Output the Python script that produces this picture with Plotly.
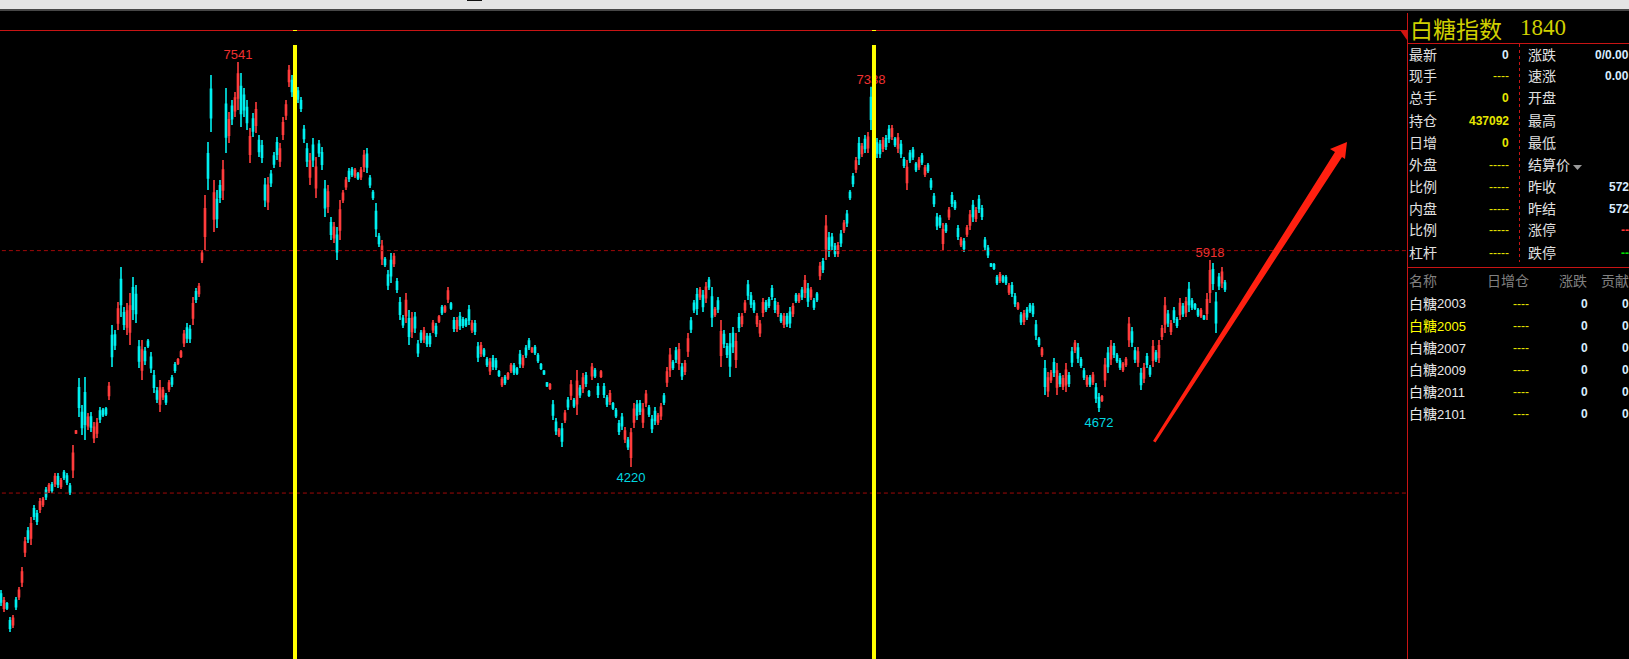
import plotly.graph_objects as go

# ---------- data: sugar index candles ----------
highs = [
3212,3155,3114,2991,3007,3155,3237,3401,3647,3729,
3811,3909,3868,3966,3975,4057,4090,4098,4171,4171,
4130,4196,4171,4090,4401,4524,4950,4729,4959,4663,
4672,4590,4622,4713,4704,4713,4918,5385,5344,5574,
5861,5533,5565,5647,5779,5713,5262,5262,5205,5270,
5164,5016,4877,4934,4877,4827,4934,4975,5082,5114,
5180,5344,5401,5385,5615,5688,5729,6000,6451,6886,
7435,6574,6492,6574,6738,7328,7132,7230,7296,7541,
7451,7328,7230,7000,7123,7214,6943,6902,6590,6599,
6656,6804,6927,6877,7091,7230,7517,7435,7476,7337,
7255,7025,6877,6795,6918,6763,6902,6845,6574,6533,
6271,6230,6189,6410,6492,6599,6672,6681,6672,6640,
6681,6820,6836,6615,6492,6385,6139,6082,5943,5836,
5975,5975,5770,5615,5467,5647,5508,5492,5492,5262,
5344,5369,5319,5319,5426,5401,5467,5549,5549,5697,
5574,5451,5451,5492,5451,5442,5549,5426,5426,5246,
5246,5196,5123,5114,5139,5114,5016,4959,4975,5000,
5073,5073,5041,5180,5139,5221,5278,5205,5221,5155,
5073,5016,4918,4909,4770,4622,4540,4581,4688,4795,
4934,4786,5016,4893,4991,5000,4852,5073,5032,4909,
5016,4909,4811,4852,4754,4704,4606,4663,4549,4467,
4540,4745,4770,4770,4745,4852,4729,4647,4713,4663,
4745,4827,5041,5196,5098,5205,5237,5073,5098,5319,
5451,5590,5688,5697,5672,5738,5779,5697,5533,5615,
5426,5344,5237,5319,5369,5319,5483,5483,5590,5754,
5656,5590,5483,5426,5606,5590,5615,5713,5606,5574,
5483,5483,5483,5533,5565,5647,5647,5697,5795,5729,
5697,5606,5656,5902,5934,6287,6148,6139,6057,6066,
6164,6246,6328,6492,6631,6763,6927,6877,6943,6968,
7338,7230,6918,6902,6927,6943,7025,7025,6927,6959,
6902,6763,6738,6820,6845,6722,6763,6795,6697,6713,
6590,6467,6303,6287,6221,6221,6353,6476,6410,6205,
6107,6098,6205,6328,6410,6353,6451,6369,6107,6041,
5893,5893,5795,5820,5795,5795,5729,5738,5647,5574,
5492,5508,5533,5565,5565,5426,5287,5205,5098,5000,
5016,5114,5073,4991,4975,5073,5000,5205,5262,5237,
5123,5032,4975,4975,5000,4909,4827,4811,5114,5205,
5262,5237,5155,5114,5082,5123,5451,5369,5205,5205,
5032,5073,5155,5057,5262,5180,5262,5385,5615,5508,
5426,5533,5451,5606,5565,5615,5738,5606,5565,5524,
5524,5467,5647,5918,5893,5656,5811,5861,5754]

lows = [
3081,3032,3048,2868,2900,3048,3130,3237,3483,3597,
3581,3786,3745,3843,3893,3950,4007,4007,4057,4048,
4040,4114,4073,3991,4130,4491,4631,4483,4442,4524,
4508,4417,4458,4581,4631,4639,4770,5041,5180,5344,
5451,5344,5303,5221,5426,5401,5032,4934,5057,5196,
4991,4827,4745,4672,4770,4729,4836,4877,4991,5057,
5114,5205,5237,5237,5385,5565,5615,5893,6000,6492,
6968,6148,6180,6385,6410,6795,6877,7025,7091,7148,
7009,7091,6984,6713,6927,6959,6763,6713,6353,6328,
6517,6672,6738,6681,6902,7066,7337,7255,7230,7205,
7132,6877,6681,6533,6681,6426,6763,6656,6271,6303,
6082,6057,5918,6082,6385,6492,6558,6599,6590,6574,
6574,6640,6631,6508,6410,6107,6025,5877,5861,5672,
5729,5861,5647,5426,5360,5401,5221,5278,5319,5123,
5237,5237,5205,5205,5319,5287,5401,5467,5483,5565,
5508,5328,5328,5344,5360,5369,5385,5319,5303,5082,
5123,5123,5041,4975,5016,5016,4959,4877,4893,4934,
4991,4975,4975,5032,5032,5114,5180,5155,5139,5073,
5016,4975,4877,4852,4606,4483,4467,4385,4581,4688,
4770,4704,4647,4786,4827,4877,4795,4934,4950,4786,
4950,4786,4713,4729,4688,4622,4483,4524,4417,4360,
4220,4540,4606,4647,4540,4713,4631,4499,4565,4565,
4606,4729,4877,4959,5016,5073,5016,4934,4975,5123,
5319,5483,5467,5590,5492,5565,5672,5369,5451,5483,
5041,5196,5114,4959,5155,5032,5328,5369,5483,5590,
5524,5483,5369,5287,5451,5492,5524,5590,5483,5451,
5401,5360,5369,5360,5451,5565,5565,5590,5606,5533,
5590,5508,5574,5754,5811,5918,5943,6000,5943,5943,
6025,6139,6189,6410,6517,6631,6697,6763,6795,6795,
6984,6861,6754,6754,6804,6820,6877,6902,6845,6795,
6754,6672,6492,6713,6738,6640,6656,6697,6599,6631,
6492,6353,6164,6180,6000,6139,6246,6353,6328,6082,
6025,5984,6107,6164,6230,6230,6303,6246,6000,5934,
5861,5836,5713,5729,5729,5713,5631,5615,5533,5508,
5385,5385,5426,5483,5451,5262,5205,5123,4811,4795,
4909,4959,4811,4877,4852,4836,4877,5041,5155,5073,
5032,4934,4877,4877,4893,4745,4672,4754,4877,4991,
5057,5114,5073,5016,5000,5041,5205,5205,5073,5041,
4852,4909,5032,4959,5041,5082,5073,5262,5319,5369,
5303,5401,5360,5426,5451,5451,5492,5508,5508,5451,
5442,5426,5426,5565,5672,5319,5672,5688,5656]

opens = [
3179,3063,3098,2960,2927,3128,3157,3278,3524,3696,
3638,3878,3837,3874,3914,4030,4028,4075,4086,4140,
4062,4175,4146,4065,4198,4499,4870,4667,4830,4559,
4631,4460,4499,4680,4686,4695,4807,5299,5303,5401,
5758,5486,5369,5328,5691,5635,5205,5016,5168,5252,
5121,4969,4844,4737,4797,4802,4860,4950,5059,5071,
5130,5240,5360,5348,5442,5657,5644,5920,6113,6788,
7318,6255,6414,6527,6492,7195,6941,7179,7142,7246,
7340,7269,7168,6785,7074,7023,6898,6855,6531,6396,
6621,6771,6880,6730,6949,7107,7382,7390,7414,7304,
7224,6988,6828,6598,6859,6510,6867,6798,6498,6360,
6224,6100,6121,6164,6412,6519,6644,6660,6610,6623,
6601,6685,6785,6588,6471,6315,6110,5928,5922,5795,
5913,5889,5739,5568,5440,5462,5436,5332,5449,5227,
5317,5270,5290,5290,5346,5372,5418,5528,5500,5598,
5557,5420,5359,5455,5428,5424,5508,5346,5395,5205,
5154,5178,5102,5010,5108,5090,5002,4898,4955,4950,
5012,5048,5024,5143,5059,5194,5254,5168,5200,5134,
5059,5006,4908,4866,4729,4587,4485,4532,4608,4768,
4811,4766,4739,4866,4868,4969,4838,4969,5012,4878,
4966,4878,4786,4760,4738,4684,4575,4628,4450,4440,
4300,4591,4729,4739,4591,4748,4704,4610,4676,4590,
4641,4802,4918,5018,5078,5172,5071,5038,5006,5172,
5418,5563,5633,5617,5627,5608,5752,5615,5471,5582,
5137,5307,5206,5229,5315,5104,5444,5398,5510,5713,
5623,5563,5398,5322,5490,5565,5592,5682,5575,5482,
5462,5391,5454,5490,5480,5626,5586,5670,5653,5680,
5617,5582,5636,5791,5903,6010,6097,6104,6029,5974,
6129,6166,6293,6472,6603,6664,6870,6792,6906,6838,
7250,7138,6877,6865,6835,6912,6988,6933,6907,6836,
6865,6740,6554,6793,6818,6702,6683,6770,6624,6692,
6565,6438,6268,6260,6055,6200,6273,6445,6390,6174,
6046,6070,6132,6205,6365,6261,6414,6338,6080,6014,
5885,5879,5775,5752,5778,5775,5656,5707,5619,5525,
5465,5416,5506,5545,5536,5385,5267,5144,5026,4846,
4936,5075,4877,4962,4883,4895,4969,5164,5182,5196,
5100,5008,4902,4950,4920,4868,4788,4768,4936,5152,
5108,5206,5134,5090,5020,5061,5267,5328,5172,5082,
4987,4950,5124,5032,5096,5155,5120,5293,5393,5473,
5334,5500,5428,5471,5536,5492,5676,5582,5551,5506,
5462,5457,5481,5653,5838,5572,5776,5731,5730]

closes = [
3114,3124,3064,2899,2980,3075,3210,3360,3606,3630,
3754,3817,3776,3935,3955,3977,4069,4030,4142,4079,
4108,4135,4098,4016,4333,4516,4711,4545,4571,4628,
4549,4547,4581,4614,4649,4657,4881,5127,5221,5516,
5554,5391,5500,5540,5514,5479,5090,5180,5094,5215,
5034,4874,4778,4868,4850,4754,4910,4902,5014,5100,
5164,5309,5278,5274,5558,5596,5700,5973,6338,6590,
7085,6468,6258,6432,6656,6928,7068,7076,7245,7443,
7120,7150,7046,6928,6976,7150,6808,6760,6412,6531,
6552,6705,6785,6828,7044,7189,7472,7300,7292,7238,
7163,6914,6730,6730,6740,6679,6798,6703,6347,6476,
6129,6187,5986,6328,6465,6572,6586,6620,6652,6590,
6654,6775,6682,6535,6431,6176,6054,6031,5882,5713,
5790,5947,5678,5473,5387,5586,5293,5438,5362,5158,
5264,5336,5234,5234,5399,5316,5450,5488,5532,5664,
5525,5359,5420,5381,5383,5387,5426,5399,5334,5123,
5215,5141,5062,5079,5047,5040,4973,4938,4913,4984,
5052,5000,4992,5069,5112,5141,5204,5192,5160,5094,
5030,4985,4887,4895,4647,4518,4522,4434,4661,4715,
4893,4724,4924,4813,4950,4908,4809,5038,4970,4817,
5000,4817,4738,4821,4704,4642,4514,4559,4516,4387,
4500,4694,4647,4678,4694,4817,4655,4536,4602,4638,
4710,4754,5000,5137,5036,5106,5182,4969,5067,5270,
5352,5510,5522,5670,5537,5695,5699,5451,5512,5516,
5330,5233,5145,5049,5209,5247,5367,5455,5563,5631,
5557,5510,5455,5391,5567,5516,5547,5621,5514,5543,
5422,5452,5398,5403,5537,5586,5626,5617,5748,5582,
5670,5533,5595,5865,5842,6195,5994,6035,5972,6035,
6060,6219,6224,6431,6546,6730,6755,6849,6832,6925,
7072,6953,6795,6791,6896,6851,6914,6994,6865,6918,
6791,6695,6676,6740,6765,6660,6736,6722,6672,6652,
6516,6382,6199,6207,6166,6160,6326,6384,6349,6113,
6086,6012,6180,6287,6275,6322,6340,6277,6027,5961,
5869,5850,5733,5797,5746,5733,5704,5646,5561,5557,
5412,5477,5453,5503,5480,5303,5225,5185,4883,4949,
4989,4998,5007,4906,4944,5014,4908,5082,5235,5114,
5055,4958,4950,4902,4973,4786,4711,4797,5055,5045,
5211,5145,5094,5040,5062,5102,5390,5246,5106,5164,
4897,5032,5063,4984,5207,5107,5215,5354,5541,5404,
5395,5434,5383,5561,5480,5574,5554,5532,5522,5469,
5503,5436,5592,5830,5727,5403,5707,5818,5680]

high_marks = [79, 290, 403]
high_marks_text = ["7541", "7338", "5918"]
low_marks = [210, 366]
low_label_levels = [4180, 4632]
low_marks_text = ["4220", "4672"]
ref_levels = [5995, 4007]
vline_bars = [98, 291]

title_name = "白糖指数"
title_code = "1840"
left_labels = ["最新","现手","总手","持仓","日增","外盘","比例","内盘","比例","杠杆"]
left_values = ["0","----","0","437092","0","-----","-----","-----","-----","-----"]
left_colors = ["#d8ecff","#e6e600","#e6e600","#e6e600","#e6e600","#e6e600","#e6e600","#e6e600","#e6e600","#e6e600"]
right_labels = ["涨跌","速涨","开盘","最高","最低","结算价","昨收","昨结","涨停","跌停"]
right_values = ["0/0.00","0.00","","","","","572","572","--","--"]
right_colors = ["#d8ecff","#d8ecff","#d8ecff","#d8ecff","#d8ecff","#d8ecff","#d8ecff","#d8ecff","#ff3232","#00e000"]
table_headers = ["名称","日增仓","涨跌","贡献"]
table_names = ["白糖","白糖","白糖","白糖","白糖","白糖"]
table_codes = ["2003","2005","2007","2009","2011","2101"]
table_dash = ["----"]*6
table_change = ["0"]*6
table_contrib = ["0"]*6

# ---------- layout helpers ----------
W, H = 1629, 659
PANEL = 1407
px = lambda x: x / W
py = lambda y: 1 - y / H
RED = "#c81414"
CUP, CDOWN = "#ff3c3c", "#00f0f0"

fig = go.Figure()
fig.add_trace(go.Candlestick(
    x=list(range(len(opens))), open=opens, high=highs, low=lows, close=closes,
    increasing=dict(line=dict(color=CUP, width=1.6), fillcolor=CUP),
    decreasing=dict(line=dict(color=CDOWN, width=1.6), fillcolor=CDOWN),
    whiskerwidth=0, hoverinfo="skip", showlegend=False))
fig.add_trace(go.Scatter(
    x=high_marks, y=[highs[i] for i in high_marks], mode="text", text=high_marks_text,
    textposition="top center", textfont=dict(family="Liberation Sans", size=13, color="#f03030"),
    hoverinfo="skip", showlegend=False, cliponaxis=False))
fig.add_trace(go.Scatter(
    x=low_marks, y=low_label_levels, mode="text", text=low_marks_text,
    textposition="bottom center", textfont=dict(family="Liberation Sans", size=13, color="#00d8e0"),
    hoverinfo="skip", showlegend=False, cliponaxis=False))

shapes = []
def pline(x0, y0, x1, y1, color=RED, width=1, dash=None):
    shapes.append(dict(type="line", xref="paper", yref="paper", x0=px(x0), y0=py(y0), x1=px(x1), y1=py(y1),
                       line=dict(color=color, width=width, dash=dash), layer="above"))
def prect(x0, y0, x1, y1, color):
    shapes.append(dict(type="rect", xref="paper", yref="paper", x0=px(x0), y0=py(y0), x1=px(x1), y1=py(y1),
                       fillcolor=color, line=dict(width=0), layer="above"))
def ppoly(points, color):
    d = "M " + " L ".join(f"{px(x):.5f},{py(y):.5f}" for x, y in points) + " Z"
    shapes.append(dict(type="path", xref="paper", yref="paper", path=d, fillcolor=color,
                       line=dict(width=0), layer="above"))

# window chrome
prect(0, 0, W, 9, "#e4e4e4")
prect(0, 9, W, 11, "#474747")
prect(467, 0, 482, 1, "#111111")
# chart frame and panels
pline(0, 30.5, PANEL, 30.5)
pline(PANEL + 0.5, 13, PANEL + 0.5, H, width=1)
pline(PANEL, 43.5, W, 43.5)
pline(PANEL, 267.5, W, 267.5)
pline(1519.5, 44, 1519.5, 262, dash="3px,3px")
ppoly([(1400, 30), (1407, 30), (1407, 40)], "#d01410")
ppoly([(1573, 165), (1582, 165), (1577.5, 170)], "#9a9a9a")
# reference levels in price units
for lv in ref_levels:
    shapes.append(dict(type="line", xref="x", yref="y", x0=0.3, x1=468.67, y0=lv, y1=lv,
                       line=dict(color="#a00808", width=1, dash="4px,3px"), layer="above"))
# yellow verticals
for b in vline_bars:
    shapes.append(dict(type="line", xref="x", yref="paper", x0=b, x1=b, y0=py(45), y1=0,
                       line=dict(color="#ffff00", width=4), layer="above"))
    shapes.append(dict(type="line", xref="x", yref="paper", x0=b, x1=b, y0=py(31), y1=py(30),
                       line=dict(color="#ffff00", width=4), layer="above"))
# hand-drawn arrow
ppoly([(1153, 441), (1335, 152), (1330, 149), (1347, 142), (1345, 159), (1342, 157), (1155.5, 442.5)], "#ff2010")

ann = []
def text(x, y, s, color="#e0e0e0", size=14, family="Noto Sans CJK SC", anchor="left", bold=False):
    if not s:
        return
    ann.append(dict(xref="paper", yref="paper", x=px(x), y=py(y), text=f"<b>{s}</b>" if bold else s,
                    showarrow=False, xanchor=anchor, yanchor="middle", align=anchor,
                    xshift=0, yshift=0, borderpad=0, borderwidth=0,
                    font=dict(family=family, size=size, color=color)))

text(1410, 28, title_name, color="#d0d000", size=23)
text(1520, 28, title_code, color="#d0d000", size=23, family="Liberation Serif")
NUM = "Liberation Sans"
for i in range(10):
    y = 53.5 + 22 * i
    text(1409, y, left_labels[i])
    dashes = left_values[i].startswith("-")
    text(1509, y + 1, left_values[i], color=left_colors[i], size=12, family=NUM, anchor="right", bold=not dashes)
    text(1528, y, right_labels[i])
    text(1629, y + 1, right_values[i], color=right_colors[i], size=12, family=NUM, anchor="right", bold=True)

text(1409, 280, table_headers[0], color="#808080")
text(1487, 280, table_headers[1], color="#808080")
text(1559, 280, table_headers[2], color="#808080")
text(1601, 280, table_headers[3], color="#808080")
for i in range(6):
    y = 303 + 22 * i
    c = "#ffff00" if i == 1 else "#e8e8e8"
    text(1409, y, table_names[i], color=c)
    text(1437, y + 1, table_codes[i], color=c, size=13, family=NUM)
    text(1529, y + 1, table_dash[i], color="#e6e600", size=12, family=NUM, anchor="right")
    text(1588, y + 1, table_change[i], color="#d8ecff", size=12, family=NUM, anchor="right", bold=True)
    text(1629, y + 1, table_contrib[i], color="#d8ecff", size=12, family=NUM, anchor="right", bold=True)

fig.update_layout(
    width=W, height=H, autosize=False, margin=dict(l=0, r=0, t=0, b=0, pad=0),
    paper_bgcolor="#000000", plot_bgcolor="#000000", showlegend=False, hovermode=False,
    boxgap=0.5, shapes=shapes, annotations=ann,
    xaxis=dict(domain=[0, PANEL / W], range=[-1 / 3, 468.67], visible=False, rangeslider=dict(visible=False), fixedrange=True),
    yaxis=dict(domain=[0, 1], range=[8050 - 8.2 * H, 8050], visible=False, fixedrange=True),
)
fig.write_html("out.html", config=dict(displayModeBar=False),
               post_script="document.body.style.margin='0';document.body.style.overflow='hidden';")
